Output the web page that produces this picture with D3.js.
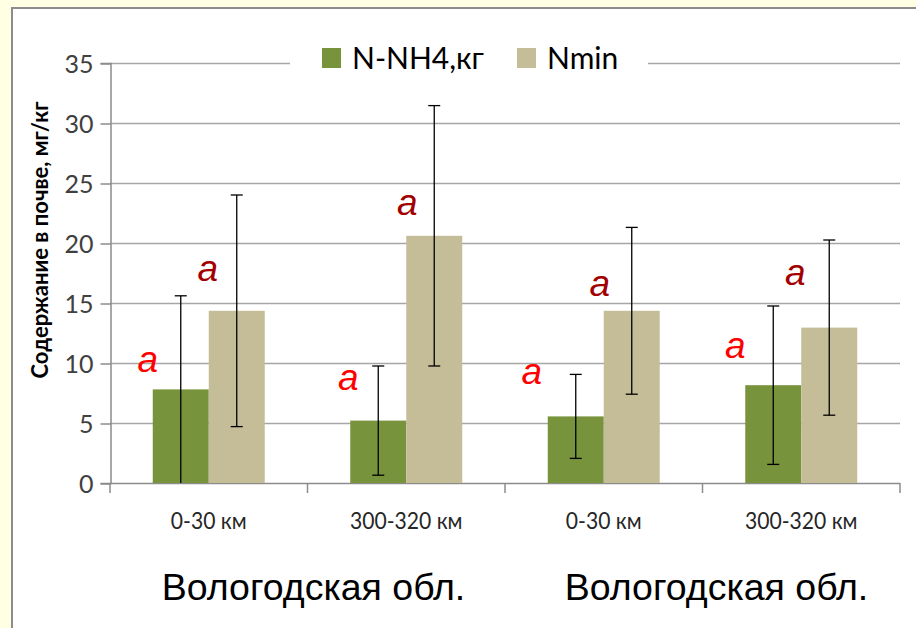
<!DOCTYPE html>
<html>
<head>
<meta charset="utf-8">
<script src="https://cdn.jsdelivr.net/npm/d3@7"></script>
<style>
  html, body { margin: 0; padding: 0; background: #FFFFE3; }
  svg { display: block; }
</style>
</head>
<body>
<svg id="chart" width="916" height="628"></svg>
<script>
// Soil nitrogen content by distance zone
const categories = ["0-30 км", "300-320 км", "0-30 км", "300-320 км"];
const regions = ["Вологодская обл.", "Вологодская обл."];
const seriesNames = ["N-NH4,кг", "Nmin"];
const nh4Values = [7.8, 5.2, 5.55, 8.15];
const nh4Errors = [7.8, 4.55, 3.5, 6.6];
const nminValues = [14.35, 20.6, 14.35, 12.95];
const nminErrors = [9.65, 10.85, 6.95, 7.3];
const yTicks = [0, 5, 10, 15, 20, 25, 30, 35];
// significance letters and the height (in mg/kg) at which each is written
const nh4Letters = ["a", "a", "a", "a"];
const nh4LetterAt = [9.25, 7.75, 8.25, 10.4];
const nminLetters = ["a", "a", "a", "a"];
const nminLetterAt = [16.8, 22.3, 15.6, 16.5];

const colors = ["#77933C", "#C4BD97"];
const letterColors = ["#FF0000", "#A20000"];

const svg = d3.select("#chart");

// panel
svg.append("rect").attr("x", 12).attr("y", 8).attr("width", 916).attr("height", 640)
  .attr("fill", "#fff").attr("stroke", "#8C8C8C").attr("stroke-width", 2);

const plot = { left: 110, right: 900, top: 63, bottom: 483 };

const y = d3.scaleLinear().domain([0, 35]).range([plot.bottom, plot.top]);
const x = d3.scaleBand().domain(d3.range(categories.length)).range([plot.left, plot.right]).padding(0);
const barW = x.bandwidth() * 0.2835;
const innerOff = (x.bandwidth() - 2 * barW) / 2;

// gridlines
svg.append("g").selectAll("line").data(yTicks.filter(t => t > 0)).join("line")
  .attr("x1", plot.left).attr("x2", plot.right)
  .attr("y1", d => y(d) + 0.5).attr("y2", d => y(d) + 0.5)
  .attr("stroke", "#A6A6A6").attr("stroke-width", 1.5);

// y axis
const yAxis = d3.axisLeft(y).tickValues(yTicks).tickSize(10).tickPadding(7);
const gy = svg.append("g").attr("transform", `translate(${plot.left + 0.5},0)`).call(yAxis);
gy.select(".domain").attr("stroke", "#8C8C8C").attr("stroke-width", 1.5);
gy.selectAll(".tick line").attr("stroke", "#8C8C8C").attr("stroke-width", 1.5).attr("transform", "translate(0,0.5)");
gy.selectAll(".tick text").attr("font-family", "Lato, sans-serif").attr("font-size", 25)
  .attr("fill", "#404040").attr("dy", "0.36em");

// x axis baseline and category separators
svg.append("line").attr("x1", plot.left).attr("x2", plot.right)
  .attr("y1", plot.bottom + 0.5).attr("y2", plot.bottom + 0.5)
  .attr("stroke", "#8C8C8C").attr("stroke-width", 1.5);
const bounds = d3.range(categories.length + 1).map(i => i < categories.length ? x(i) : x(i - 1) + x.bandwidth());
svg.append("g").selectAll("line").data(bounds).join("line")
  .attr("x1", d => d).attr("x2", d => d)
  .attr("y1", plot.bottom).attr("y2", plot.bottom + 10)
  .attr("stroke", "#8C8C8C").attr("stroke-width", 1.5);

// category labels (narrow setting)
svg.append("g").selectAll("text").data(categories).join("text")
  .attr("transform", (d, i) => `translate(${x(i) + x.bandwidth() / 2},529) scale(0.88,1)`)
  .attr("text-anchor", "middle")
  .attr("font-family", "Lato, sans-serif").attr("font-size", 24)
  .attr("fill", "#262626")
  .text(d => d);

// region labels under each pair of categories
const regionShift = [6, 14];
svg.append("g").selectAll("text").data(regions).join("text")
  .attr("x", (d, i) => (x(i * 2) + x(i * 2 + 1) + x.bandwidth()) / 2 + regionShift[i])
  .attr("y", 600)
  .attr("text-anchor", "middle")
  .attr("font-family", "Liberation Sans, Arial, sans-serif").attr("font-size", 37.5)
  .attr("fill", "#000")
  .text(d => d);

// y axis title
svg.append("text")
  .attr("transform", `translate(48,240) rotate(-90)`)
  .attr("text-anchor", "middle")
  .attr("font-family", "Lato, sans-serif").attr("font-weight", "bold").attr("font-size", 22)
  .attr("fill", "#000")
  .text("Содержание в почве, мг/кг");

// bars
const series = [
  { values: nh4Values, errors: nh4Errors, letters: nh4Letters, letterAt: nh4LetterAt },
  { values: nminValues, errors: nminErrors, letters: nminLetters, letterAt: nminLetterAt }
];
const letterShift = [[-5, -2, -16, -10], [-29, -27, -32, -34]];

series.forEach((s, si) => {
  const bx = i => x(i) + innerOff + si * barW;
  const g = svg.append("g");
  g.selectAll("rect").data(s.values).join("rect")
    .attr("x", (d, i) => bx(i)).attr("width", barW)
    .attr("y", d => y(d)).attr("height", d => y(0) - y(d))
    .attr("fill", colors[si]);

  // error bars
  const eg = svg.append("g").attr("stroke", "#000").attr("stroke-width", 1.3);
  s.values.forEach((v, i) => {
    const cx = bx(i) + barW / 2;
    const hi = v + s.errors[i], lo = Math.max(0, v - s.errors[i]);
    eg.append("line").attr("x1", cx).attr("x2", cx).attr("y1", y(hi)).attr("y2", y(lo));
    eg.append("line").attr("x1", cx - 6).attr("x2", cx + 6).attr("y1", y(hi)).attr("y2", y(hi));
    if (lo > 0) eg.append("line").attr("x1", cx - 6).attr("x2", cx + 6).attr("y1", y(lo)).attr("y2", y(lo));
  });

  // significance letters
  svg.append("g").selectAll("text").data(s.letters).join("text")
    .attr("x", (d, i) => si === 0 ? bx(i) + letterShift[si][i] : bx(i) + barW / 2 + letterShift[si][i])
    .attr("y", (d, i) => y(s.letterAt[i]))
    .attr("text-anchor", "middle")
    .attr("font-family", "Liberation Sans, Arial, sans-serif").attr("font-style", "italic")
    .attr("font-size", 37)
    .attr("fill", letterColors[si])
    .text(d => d);
});

// legend
const legend = svg.append("g");
legend.append("rect").attr("x", 290).attr("y", 40).attr("width", 358).attr("height", 40).attr("fill", "#fff");
const legendX = [322, 517];
seriesNames.forEach((name, i) => {
  legend.append("rect").attr("x", legendX[i]).attr("y", 48).attr("width", 19).attr("height", 20).attr("fill", colors[i]);
  legend.append("text").attr("x", legendX[i] + 30).attr("y", 69)
    .attr("font-family", "Lato, sans-serif").attr("font-size", 30).attr("fill", "#000")
    .text(name);
});
</script>
</body>
</html>
